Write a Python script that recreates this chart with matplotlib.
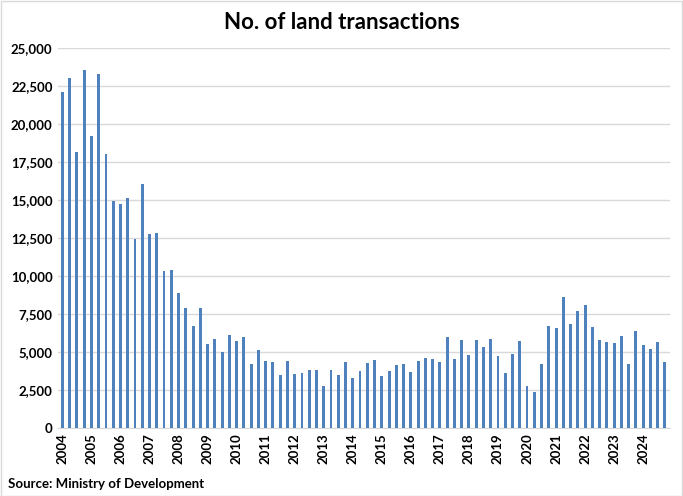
import matplotlib
matplotlib.use('Agg')
import matplotlib.pyplot as plt
from matplotlib.patches import Rectangle

plt.rcParams['font.family'] = ['Lato', 'DejaVu Sans']

# quarterly land transactions, 2004Q1 - 2024Q4
years = list(range(2004, 2025))
values = [
    22100, 23050, 18180, 23580, 19230, 23310, 18050, 14960,
    14760, 15150, 12460, 16080, 12790, 12850, 10350, 10420,
    8900, 7920, 6730, 7920, 5550, 5880, 5020, 6140,
    5750, 6010, 4230, 5150, 4430, 4360, 3510, 4430,
    3580, 3640, 3840, 3840, 2790, 3840, 3510, 4360,
    3310, 3770, 4300, 4500, 3440, 3770, 4170, 4230,
    3710, 4430, 4630, 4560, 4360, 6010, 4560, 5810,
    4830, 5810, 5350, 5880, 4760, 3640, 4890, 5750,
    2790, 2390, 4230, 6730, 6600, 8640, 6860, 7720,
    8110, 6670, 5810, 5680, 5610, 6080, 4230, 6400,
    5480, 5220, 5680, 4360,
]

fig = plt.figure(figsize=(6.83, 4.96), dpi=100)
ax = fig.add_axes([0.085, 0.137, 0.896, 0.766])

x = list(range(len(values)))
ax.bar(x, values, width=0.4, color='#4F81BD', zorder=3)

ax.set_xlim(-0.6, len(values) - 0.3)
ax.set_ylim(0, 25000)
ax.set_yticks(range(0, 25001, 2500))
ax.set_yticklabels([f'{v:,}' for v in range(0, 25001, 2500)], fontweight='bold', fontsize=9.5)
ax.set_xticks(range(0, len(values), 4))
ax.set_xticklabels([str(y) for y in years], rotation=90, fontweight='bold', fontsize=9.5)
ax.tick_params(length=0, pad=4)

ax.grid(axis='y', color='#D9D9D9', linewidth=1, zorder=0)
for s in ['top', 'right', 'left']:
    ax.spines[s].set_visible(False)
ax.spines['bottom'].set_color('#D9D9D9')

fig.text(0.5, 0.955, 'No. of land transactions', ha='center', va='center',
         fontsize=16, fontweight='bold')
fig.text(0.012, 0.024, 'Source: Ministry of Development', ha='left', va='center',
         fontsize=9.5, fontweight='bold')

fig.patches.append(Rectangle((0.001, 0.001), 0.997, 0.997, transform=fig.transFigure,
                             fill=False, edgecolor='#D9D9D9', linewidth=1))

plt.savefig('out.png', dpi=100)
